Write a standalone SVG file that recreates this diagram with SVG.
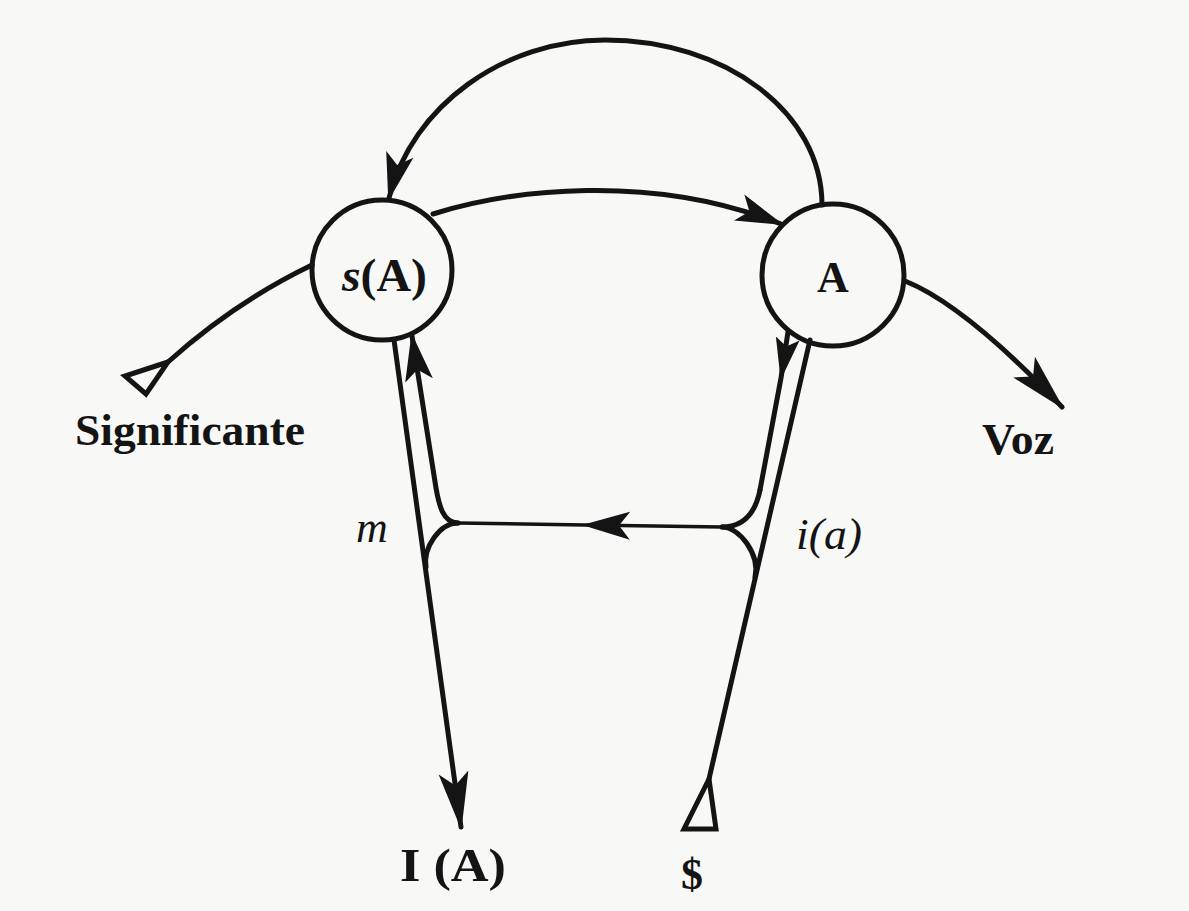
<svg xmlns="http://www.w3.org/2000/svg" width="1189" height="911" viewBox="0 0 1189 911">
<defs>
<style>
.ln{fill:none;stroke:#141414;stroke-width:5;stroke-linecap:round;stroke-linejoin:round}
.thin{fill:none;stroke:#141414;stroke-width:3.5;stroke-linecap:round}
.node{fill:none;stroke:#141414;stroke-width:5}
.tri{fill:#f8f8f6;stroke:#141414;stroke-width:5;stroke-linejoin:miter}
.t{font-family:"Liberation Serif","Times New Roman",serif;fill:#141414}
.b{font-weight:bold}
.i{font-style:italic}
</style>
<marker id="arrL" markerUnits="userSpaceOnUse" markerWidth="60" markerHeight="32" viewBox="0 0 60 32" refX="55" refY="16" orient="auto">
<path d="M0,1 L58,16 L0,31 L13,16 Z" fill="#141414"/>
</marker>
<marker id="arrM" markerUnits="userSpaceOnUse" markerWidth="50" markerHeight="30" viewBox="0 0 50 30" refX="45" refY="15" orient="auto">
<path d="M0,1 L48,15 L0,29 L11,15 Z" fill="#141414"/>
</marker>
<marker id="arrS" markerUnits="userSpaceOnUse" markerWidth="44" markerHeight="26" viewBox="0 0 44 26" refX="40" refY="13" orient="auto">
<path d="M0,1 L42,13 L0,25 L8,13 Z" fill="#141414"/>
</marker>
</defs>
<rect width="1189" height="911" fill="#f8f8f6"/>

<g id="connectors">
<path class="ln" d="M822,205 C822,112 725,40 605,40 C505,40 412,105 389,198" marker-end="url(#arrM)"/>
<path class="ln" d="M433,214 C510,190 650,172 781,224" marker-end="url(#arrM)"/>
<path class="ln" d="M312,265 Q235,302 168,362"/>
<polygon class="tri" points="168,362 125,376 146,394"/>
<path class="ln" d="M905,281 Q965,305 1062,407" marker-end="url(#arrL)"/>
<path class="ln" d="M394,340 L461,827" marker-end="url(#arrL)"/>
<path class="ln" d="M458,523 C443,523 439,505 436,488 L412,336" marker-end="url(#arrM)"/>
<path class="ln" d="M458,523 C440,523 423,547 426,567"/>
<path class="thin" d="M722,527 L585,525 L458,523" marker-mid="url(#arrM)"/>
<path class="ln" d="M810,340 L709,779"/>
<polygon class="tri" points="709,779 684,829 716,829"/>
<path class="ln" d="M788,332 L781,378 L760,490" marker-mid="url(#arrS)"/>
<path class="ln" d="M760,490 C755,515 742,527 722,527"/>
<path class="ln" d="M722,527 C740,527 760,555 755,577"/>
</g>

<g id="node-sA">
<circle class="node" cx="382" cy="270" r="70"/>
<text class="t b" x="342" y="291" font-size="46" textLength="85" lengthAdjust="spacingAndGlyphs"><tspan class="i">s</tspan>(A)</text>
</g>
<g id="node-A">
<circle class="node" cx="833" cy="275" r="71"/>
<text class="t b" x="833" y="292" font-size="44" text-anchor="middle">A</text>
</g>
<g id="label-significante">
<text class="t b" x="75" y="445" font-size="45" textLength="230" lengthAdjust="spacingAndGlyphs">Significante</text>
</g>
<g id="label-voz">
<text class="t b" x="982" y="454" font-size="44" textLength="72" lengthAdjust="spacingAndGlyphs">Voz</text>
</g>
<g id="label-m">
<text class="t i" x="356" y="542" font-size="44">m</text>
</g>
<g id="label-ia">
<text class="t i" x="796" y="549" font-size="44" textLength="66" lengthAdjust="spacingAndGlyphs">i(a)</text>
</g>
<g id="label-IA">
<text class="t b" x="400" y="881" font-size="46" textLength="106" lengthAdjust="spacingAndGlyphs">I (A)</text>
</g>
<g id="label-S">
<text class="t b" x="681" y="889" font-size="44">$</text>
</g>
</svg>
